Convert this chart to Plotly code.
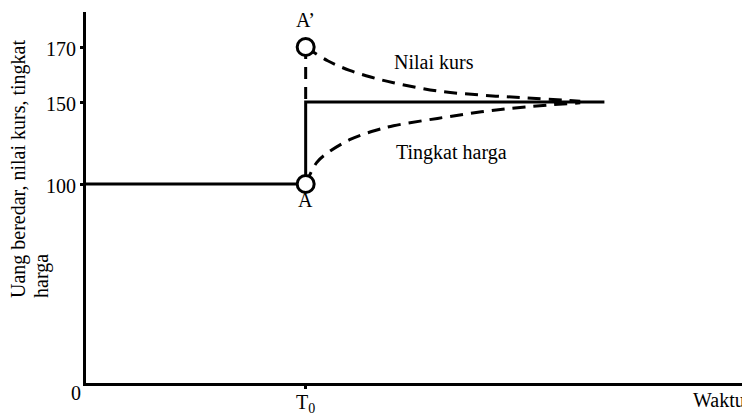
import numpy as np
import plotly.graph_objects as go

# ---- data ----
y_tick_values = [170, 150, 100]
y_tick_labels = ["170", "150", "100"]
x_tick_values = [10]
x_tick_labels = ["T<sub>0</sub>"]
t_end = 30

money_t = [0, 10, 10, 23.6]
money_v = [100, 100, 150, 150]

kurs_t = [10, 11, 12, 13, 14, 16, 18, 20, 22.5]
kurs_v = [170, 165, 161.5, 159, 157, 154, 152.5, 151.5, 150.3]

harga_t = [10, 10.5, 11, 12, 13, 14, 16, 18, 20, 22.5]
harga_v = [100, 113, 119, 127, 132, 135.5, 140, 144, 147, 149.5]

jump_t = [10, 10]
jump_v = [170, 150]

points_t = [10, 10]
points_v = [170, 100]

# non-linear (schematic) vertical scale of the original drawing
SCALE_VALUES = [0, 100, 150, 170]
SCALE_POS = [0, 199, 281, 336]


def ys(v):
    return list(np.interp(v, SCALE_VALUES, SCALE_POS))


OFF = 8  # page body margin
W, H = 742, 409
ML, MR, MT, MB = 78, 5, 4, 34
PW, PH = W - ML - MR, H - MT - MB


def px(x):
    return (x - OFF - ML) / PW


def py(y):
    return (H - MB - (y - OFF)) / PH


FONT = "Liberation Serif"
FS = 20
tf = dict(family=FONT, size=FS, color="black")

fig = go.Figure()
fig.add_trace(go.Scatter(x=money_t, y=ys(money_v), mode="lines",
                         line=dict(color="black", width=3), hoverinfo="skip"))
fig.add_trace(go.Scatter(x=jump_t, y=ys(jump_v), mode="lines",
                         line=dict(color="black", width=3, dash="12px,8px"), hoverinfo="skip"))
fig.add_trace(go.Scatter(x=kurs_t, y=ys(kurs_v), mode="lines",
                         line=dict(color="black", width=3, dash="13px,8px", shape="spline"),
                         hoverinfo="skip"))
fig.add_trace(go.Scatter(x=harga_t, y=ys(harga_v), mode="lines",
                         line=dict(color="black", width=3, dash="13px,8px", shape="spline"),
                         hoverinfo="skip"))
fig.add_trace(go.Scatter(x=points_t, y=ys(points_v), mode="markers",
                         marker=dict(symbol="circle", size=17, color="white",
                                     line=dict(color="black", width=3)),
                         hoverinfo="skip"))

ann = [
    ("A’", 305, 20),
    ("A", 305, 200),
    ("Nilai kurs", 434, 62),
    ("Tingkat harga", 451, 152),
    ("Waktu", 719, 400),
    ("0", 76, 393),
]
annotations = []
for text, x, y in ann:
    annotations.append(dict(text=text, x=px(x), y=py(y), xref="paper", yref="paper",
                            xanchor="center", yanchor="middle", showarrow=False, font=tf))
# y tick labels
for v, lab in zip(y_tick_values, y_tick_labels):
    annotations.append(dict(text=lab, x=px(78), y=ys([v])[0], xref="paper", yref="y",
                            xanchor="right", yanchor="middle", yshift=-2,
                            showarrow=False, font=tf))
# x tick labels
for v, lab in zip(x_tick_values, x_tick_labels):
    annotations.append(dict(text=lab, x=v, y=py(403), xref="x", yref="paper",
                            xanchor="center", yanchor="middle", showarrow=False, font=tf))
annotations.append(dict(text="Uang beredar, nilai kurs, tingkat", x=px(18), y=py(300),
                        xref="paper", yref="paper", xanchor="center", yanchor="bottom",
                        textangle=-90, showarrow=False, font=tf))
annotations.append(dict(text="harga", x=px(41), y=py(300),
                        xref="paper", yref="paper", xanchor="center", yanchor="bottom",
                        textangle=-90, showarrow=False, font=tf))

fig.update_layout(
    width=W, height=H, margin=dict(l=ML, r=MR, t=MT, b=MB),
    paper_bgcolor="white", plot_bgcolor="white", showlegend=False,
    font=tf,
    annotations=annotations,
    xaxis=dict(range=[0, t_end], showgrid=False, zeroline=False, showline=True,
               linecolor="black", linewidth=3, ticks="outside", ticklen=3, tickwidth=3,
               tickcolor="black", tickvals=x_tick_values, showticklabels=False,
               automargin=False),
    yaxis=dict(range=[0, PH], showgrid=False, zeroline=False, showline=True,
               linecolor="black", linewidth=3, ticks="outside", ticklen=3, tickwidth=3,
               tickcolor="black", tickvals=ys(y_tick_values), showticklabels=False,
               automargin=False),
)

fig.write_html("out.html")
